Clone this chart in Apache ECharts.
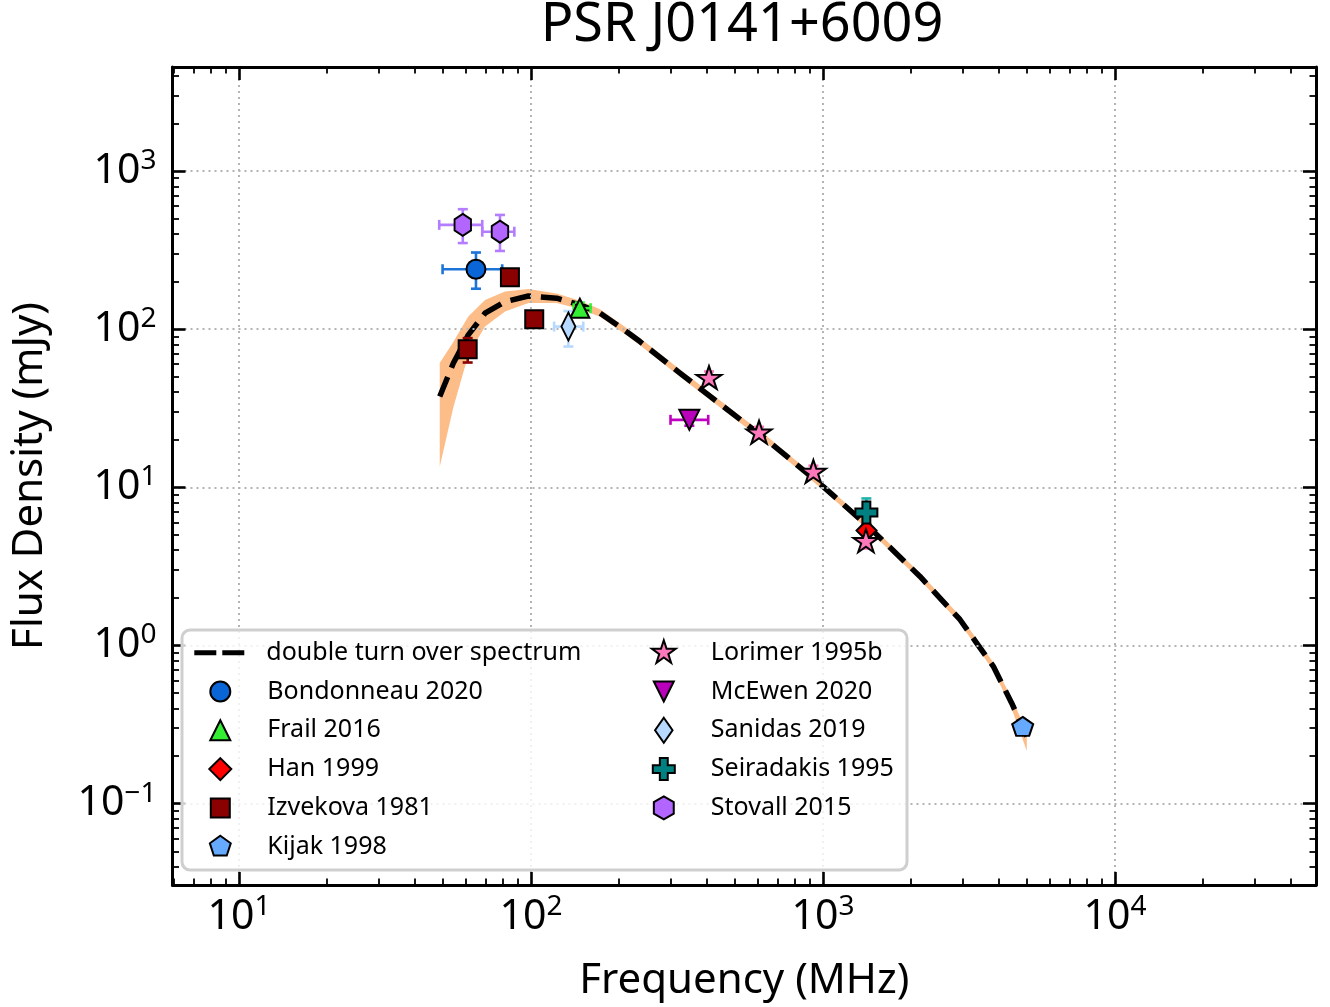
<!DOCTYPE html>
<html><head><meta charset="utf-8">
<script src="https://cdn.jsdelivr.net/npm/echarts@6/dist/echarts.min.js"></script>
<style>html,body{margin:0;padding:0;background:#fff}#c{width:1330px;height:1007px}</style>
</head><body><div id="c"></div>
<script>
// ---------------- DATA ----------------
const TITLE = 'PSR J0141+6009';
const X_NAME = 'Frequency (MHz)';
const Y_NAME = 'Flux Density (mJy)';
const X_RANGE = [5.92, 48800];      // MHz
const Y_RANGE = [0.0306, 4540];     // mJy
const X_MAJOR = [10, 100, 1000, 10000];
const Y_MAJOR = [0.1, 1, 10, 100, 1000];

// model curve (double turn over spectrum) and its uncertainty band
const curveFreq = [48.7, 54.2, 61, 69.6, 81.5, 98, 122.4, 147.2, 172.3, 201.8, 236.2, 323.8, 456, 642, 1002, 1449, 2149, 2516, 2944, 3360, 3831, 4426, 4990];
const curveFlux = [37.5, 60.8, 92, 126, 149, 162, 156.9, 142.3, 126.2, 103.3, 83.4, 52.7, 32.4, 19.95, 10.1, 5.52, 2.73, 1.99, 1.46, 1.036, 0.738, 0.433, 0.266];
const bandLow   = [13.5, 32, 68.7, 104, 129, 146, 146, 134, 119.5, 98, 79, 50, 30.8, 19, 9.6, 5.25, 2.6, 1.89, 1.38, 0.98, 0.695, 0.4, 0.215];
const bandHigh  = [61, 83, 120, 153, 173, 179, 168, 151, 133.5, 109, 88, 55.5, 34.1, 21, 10.6, 5.8, 2.87, 2.1, 1.54, 1.1, 0.78, 0.465, 0.285];

// rows: [freq, flux, freqLo, freqHi, fluxLo, fluxHi]
const bondonneau2020 = [[64.8, 239, 49.8, 79.7, 180, 305]];
const frail2016      = [[147, 135.5, 140, 160, 124, 147]];
const han1999        = [[1410, 5.33, null, null, 4.9, 5.8]];
const izvekova1981   = [[60.7, 74.6, null, null, 61.5, 87.7], [84.7, 213, null, null, 200, 226], [102.6, 115.6, null, null, 108, 124]];
const kijak1998      = [[4830, 0.308, null, null, 0.28, 0.336]];
const lorimer1995b   = [[407, 49.4, null, null, 45, 54], [604, 22.3, null, null, 20.5, 24.1], [927, 12.6, null, null, 11.5, 13.7], [1403, 4.59, null, null, 4.1, 5.1]];
const mcewen2020     = [[348.6, 26.7, 300.5, 404.6, 24.5, 28.9]];
const sanidas2019    = [[134.3, 103.8, 120, 151, 77.6, 130]];
const seiradakis1995 = [[1408, 6.93, null, null, 5.4, 8.5]];
const stovall2015    = [[58.4, 456, 48.5, 68.1, 350, 573], [78.3, 413, 68.1, 87.7, 312, 527]];

const CURVE_NAME = 'double turn over spectrum';
const COL1 = ['Bondonneau 2020', 'Frail 2016', 'Han 1999', 'Izvekova 1981', 'Kijak 1998'];
const COL2 = ['Lorimer 1995b', 'McEwen 2020', 'Sanidas 2019', 'Seiradakis 1995', 'Stovall 2015'];

// ---------------- STYLE ----------------
const F = '"Noto Sans", "DejaVu Sans", sans-serif';
const lf = v => Math.log10(v);

const SHAPES = {
  triUp: [[0,-1],[1,1],[-1,1]],
  triDown: [[-1,-1],[1,-1],[0,1]],
  square: [[-1,-1],[1,-1],[1,1],[-1,1]],
  diamond: [[0,-1],[1,0],[0,1],[-1,0]],
  thinDiamond: [[0,-1],[0.7,0],[0,1],[-0.7,0]],
  pentagon: [[0,-1],[0.9511,-0.309],[0.5878,0.809],[-0.5878,0.809],[-0.9511,-0.309]],
  hexagon: [[0,-1],[0.866,-0.5],[0.866,0.5],[0,1],[-0.866,0.5],[-0.866,-0.5]],
  star: [[0,-1],[0.2245,-0.309],[0.9511,-0.309],[0.3633,0.118],[0.5878,0.809],[0,0.382],[-0.5878,0.809],[-0.3633,0.118],[-0.9511,-0.309],[-0.2245,-0.309]],
  plus: [[-0.36,-1],[0.36,-1],[0.36,-0.36],[1,-0.36],[1,0.36],[0.36,0.36],[0.36,1],[-0.36,1],[-0.36,0.36],[-1,0.36],[-1,-0.36],[-0.36,-0.36]]
};
function shapePath(kind, s) {
  if (kind === 'circle') return `M${-s},0A${s},${s},0,1,1,${s},0A${s},${s},0,1,1,${-s},0Z`;
  return 'M' + SHAPES[kind].map(p => (p[0]*s).toFixed(3) + ',' + (p[1]*s).toFixed(3)).join('L') + 'Z';
}

const STYLE = {
  'Bondonneau 2020': {rows: bondonneau2020, face: '#0a66d6', err: '#1c74d8', shape: 'circle', size: [19,19], lr: 10},
  'Frail 2016':      {rows: frail2016, face: '#33ee33', err: '#33ee33', shape: 'triUp', size: [19,19], lr: 10},
  'Han 1999':        {rows: han1999, face: '#ff0000', err: '#ff2020', shape: 'diamond', size: [20,20], lr: 11},
  'Izvekova 1981':   {rows: izvekova1981, face: '#8b0000', err: '#8b0000', shape: 'square', size: [18,18], lr: 9.5},
  'Kijak 1998':      {rows: kijak1998, face: '#66aaff', err: '#66aaff', shape: 'pentagon', size: [21,20], lr: 11},
  'Lorimer 1995b':   {rows: lorimer1995b, face: '#ff78bb', err: '#ff78bb', shape: 'star', size: [25,24], lr: 12.5},
  'McEwen 2020':     {rows: mcewen2020, face: '#bb00bb', err: '#c000c0', shape: 'triDown', size: [20,20], lr: 10},
  'Sanidas 2019':    {rows: sanidas2019, face: '#b7d9ff', err: '#b7d9ff', shape: 'thinDiamond', size: [20,28], lr: 12.5},
  'Seiradakis 1995': {rows: seiradakis1995, face: '#008080', err: '#20b2aa', shape: 'plus', size: [22,22], lr: 11},
  'Stovall 2015':    {rows: stovall2015, face: '#b266ff', err: '#b47cff', shape: 'hexagon', size: [19,22], lr: 11.5}
};

// minor tick positions (log10 space)
function minorTicks(lo, hi) {
  const out = [];
  for (let d = Math.floor(lo) - 1; d <= Math.ceil(hi); d++) {
    for (let m = 2; m <= 9; m++) {
      const v = d + Math.log10(m);
      if (v > lo && v < hi) out.push(v);
    }
  }
  return out;
}
const XMIN = lf(X_RANGE[0]), XMAX = lf(X_RANGE[1]);
const YMIN = lf(Y_RANGE[0]), YMAX = lf(Y_RANGE[1]);
const xMajor = X_MAJOR.map(lf), yMajor = Y_MAJOR.map(lf);
const xMinor = minorTicks(XMIN, XMAX), yMinor = minorTicks(YMIN, YMAX);

function expLabel(v) {
  const n = Math.round(v);
  if (Math.abs(v - n) > 1e-6) return '';
  return '{b|10}{s|' + (n < 0 ? '\u2212' + (-n) : n) + '}';
}
const RICH = {
  b: {fontSize: 41, lineHeight: 48, fontFamily: F, color: '#000'},
  s: {fontSize: 28, fontFamily: F, color: '#000', verticalAlign: 'top'}
};

function axisCommon(min, max, position, major, withLabel, isMinor, labelMargin, name, nameGap) {
  const a = {
    type: 'value', min, max, position, gridIndex: 0,
    axisLine: {show: !isMinor, onZero: false, lineStyle: {color: '#000', width: 3}},
    axisTick: {show: true, inside: true, length: isMinor ? 6.5 : 13,
      lineStyle: {color: '#000', width: isMinor ? 1.8 : 2.6}, customValues: major},
    axisLabel: withLabel ? {show: true, customValues: major, formatter: expLabel, rich: RICH, margin: labelMargin} : {show: false},
    splitLine: (withLabel) ? {show: true, lineStyle: {color: '#b4b4b4', width: 2, type: [2, 4]}} : {show: false},
    z: isMinor ? 3 : 4
  };
  if (name) {
    a.name = name; a.nameLocation = 'middle'; a.nameGap = nameGap;
    a.nameTextStyle = {fontFamily: F, fontSize: 42, color: '#000'};
  }
  return a;
}

// ---------------- SERIES ----------------
const series = [];
// band
series.push({
  type: 'custom', name: 'band', z: 1, silent: true,
  data: [[lf(curveFreq[0]), lf(curveFlux[0])]],
  renderItem: (params, api) => {
    const pts = [];
    for (let i = 0; i < curveFreq.length; i++) pts.push(api.coord([lf(curveFreq[i]), lf(bandHigh[i])]));
    for (let i = curveFreq.length - 1; i >= 0; i--) pts.push(api.coord([lf(curveFreq[i]), lf(bandLow[i])]));
    return {type: 'polygon', shape: {points: pts}, style: {fill: '#fdbd88'}};
  }
});
// curve
series.push({
  type: 'line', name: CURVE_NAME, z: 3, symbol: 'none', smooth: false, silent: true,
  data: curveFreq.map((f, i) => [lf(f), lf(curveFlux[i])]),
  itemStyle: {color: '#000'},
  lineStyle: {color: '#000', width: 5.5, type: [21, 10], join: 'round'}
});
// error bars + markers
const CAP = 5;
Object.keys(STYLE).forEach(name => {
  const st = STYLE[name];
  const rows = st.rows.map(r => r.map(v => v == null ? NaN : lf(v)));
  series.push({
    type: 'custom', name: name + ' (err)', z: 4, silent: true,
    data: rows,
    encode: {x: 0, y: 1},
    renderItem: (params, api) => {
      const x = api.value(0), y = api.value(1);
      const xl = api.value(2), xh = api.value(3), yl = api.value(4), yh = api.value(5);
      const children = [];
      const ls = {stroke: st.err, lineWidth: 2.6};
      const seg = (a, b) => children.push({type: 'line', shape: {x1: a[0], y1: a[1], x2: b[0], y2: b[1]}, style: ls});
      if (!isNaN(xl) && !isNaN(xh)) {
        const a = api.coord([xl, y]), b = api.coord([xh, y]);
        seg(a, b);
        seg([a[0], a[1] - CAP], [a[0], a[1] + CAP]);
        seg([b[0], b[1] - CAP], [b[0], b[1] + CAP]);
      }
      if (!isNaN(yl) && !isNaN(yh)) {
        const a = api.coord([x, yl]), b = api.coord([x, yh]);
        seg(a, b);
        seg([a[0] - CAP, a[1]], [a[0] + CAP, a[1]]);
        seg([b[0] - CAP, b[1]], [b[0] + CAP, b[1]]);
      }
      return {type: 'group', children};
    }
  });
  series.push({
    type: 'scatter', name, z: 5, silent: true,
    data: rows.map(r => [r[0], r[1]]),
    symbol: 'path://' + shapePath(st.shape, 1),
    symbolSize: st.size, symbolKeepAspect: true,
    itemStyle: {color: st.face, borderColor: '#000', borderWidth: 2, opacity: 1}
  });
});

function legendIcon(name) {
  const st = STYLE[name];
  return 'path://M-42,-13M42,13' + shapePath(st.shape, st.lr);
}
const legendText = {fontFamily: F, fontSize: 25, color: '#000', lineHeight: 30};
const legendBase = {orient: 'vertical', padding: 0, itemGap: 8.8, z: 20, selectedMode: false,
  textStyle: legendText, itemWidth: 84, itemHeight: 26,
  itemStyle: {borderColor: '#000', borderWidth: 2}};

const option = {
  animation: false,
  backgroundColor: '#fff',
  title: {text: TITLE, left: 742, top: -1, padding: 0, textAlign: 'center',
    textStyle: {fontFamily: F, fontSize: 54, fontWeight: 'normal', color: '#000', lineHeight: 54}},
  grid: {left: 172.5, right: 14, top: 67, bottom: 121.7, containLabel: false},
  xAxis: [
    axisCommon(XMIN, XMAX, 'bottom', xMajor, true, false, 8, X_NAME, 75),
    axisCommon(XMIN, XMAX, 'bottom', xMinor, false, true),
    axisCommon(XMIN, XMAX, 'top', xMajor, false, false),
    axisCommon(XMIN, XMAX, 'top', xMinor, false, true)
  ],
  yAxis: [
    axisCommon(YMIN, YMAX, 'left', yMajor, true, false, 16, Y_NAME, 121),
    axisCommon(YMIN, YMAX, 'left', yMinor, false, true),
    axisCommon(YMIN, YMAX, 'right', yMajor, false, false),
    axisCommon(YMIN, YMAX, 'right', yMinor, false, true)
  ],
  legend: [
    Object.assign({}, legendBase, {left: 177.3, top: 637.7, itemHeight: 5,
      itemStyle: {borderWidth: 0},
      data: [{name: CURVE_NAME, icon: 'path://M-42,-2.5M42,2.5M-25,-2.5H-3V2.5H-25ZM3,-2.5H25V2.5H3Z'}]}),
    Object.assign({}, legendBase, {left: 177.3, top: 676.5,
      data: COL1.map(n => ({name: n, icon: legendIcon(n)}))}),
    Object.assign({}, legendBase, {left: 620.8, top: 637.7,
      data: COL2.map(n => ({name: n, icon: legendIcon(n)}))})
  ],
  graphic: {elements: [{
    type: 'rect', z: 10, silent: true,
    shape: {x: 182, y: 630, width: 725, height: 240, r: 8},
    style: {fill: 'rgba(255,255,255,0.8)', stroke: '#cfcfcf', lineWidth: 3}
  }]},
  series
};

const chart = echarts.init(document.getElementById('c'), null, {renderer: 'canvas'});
chart.setOption(option);
</script>
</body></html>
